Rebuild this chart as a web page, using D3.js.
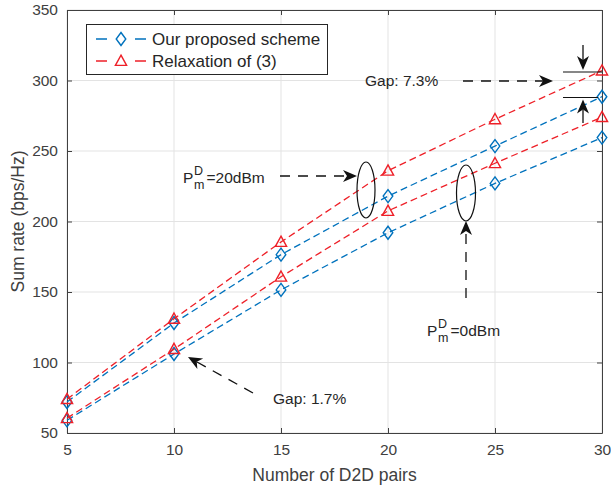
<!DOCTYPE html>
<html>
<head>
<meta charset="utf-8">
<script src="https://cdn.jsdelivr.net/npm/d3@7"></script>
<style>
  body { margin: 0; background: #fff; }
  svg { font-family: "Liberation Sans", Arial, Helvetica, sans-serif; }
</style>
</head>
<body>
<div id="chart"></div>
<script>
var W = 611, H = 487;
var margin = {left: 67, right: 9, top: 10, bottom: 54};

// Data
var xPairs = [5, 10, 15, 20, 25, 30];
var propHigh = [72, 128, 176.5, 218, 253.5, 288.5];     // proposed, P=20dBm
var relaxHigh = [74, 131, 185.5, 236, 272.5, 307];      // relaxation, P=20dBm
var propLow = [59, 106, 151.5, 192, 227, 259.5];        // proposed, P=0dBm
var relaxLow = [60.5, 109.5, 160.8, 207.5, 241.3, 274]; // relaxation, P=0dBm
var xTicks = [5, 10, 15, 20, 25, 30];
var yTicks = [50, 100, 150, 200, 250, 300, 350];
var legendNames = ['Our proposed scheme', 'Relaxation of (3)'];

var blue = '#0072bd', red = '#ee2028', axisCol = '#404040';

var svg = d3.select('#chart').append('svg')
  .attr('width', W).attr('height', H);

var x = d3.scaleLinear().domain([5, 30]).range([margin.left, W - margin.right]);
var y = d3.scaleLinear().domain([50, 350]).range([H - margin.bottom, margin.top]);

// grid
svg.append('g').selectAll('line').data(xTicks).enter().append('line')
  .attr('x1', function(d){ return x(d); }).attr('x2', function(d){ return x(d); })
  .attr('y1', y(50)).attr('y2', y(350))
  .attr('stroke', '#e3e3e3').attr('stroke-width', 1);
svg.append('g').selectAll('line').data(yTicks).enter().append('line')
  .attr('y1', function(d){ return y(d); }).attr('y2', function(d){ return y(d); })
  .attr('x1', x(5)).attr('x2', x(30))
  .attr('stroke', '#e3e3e3').attr('stroke-width', 1);

// axes (ticks inside, box)
function styleAxis(g) {
  g.select('.domain').attr('stroke', axisCol);
  g.selectAll('.tick line').attr('stroke', axisCol);
  g.selectAll('.tick text').attr('fill', axisCol).attr('font-size', '15.5px');
}
svg.append('g').attr('transform', 'translate(0,' + y(50) + ')')
  .call(d3.axisBottom(x).tickValues(xTicks).tickSizeInner(-5).tickSizeOuter(0).tickPadding(11))
  .call(styleAxis);
svg.append('g').attr('transform', 'translate(0,' + y(350) + ')')
  .call(d3.axisTop(x).tickValues(xTicks).tickSizeInner(-5).tickSizeOuter(0).tickFormat(''))
  .call(styleAxis);
svg.append('g').attr('transform', 'translate(' + x(5) + ',0)')
  .call(d3.axisLeft(y).tickValues(yTicks).tickSizeInner(-5).tickSizeOuter(0).tickPadding(9))
  .call(styleAxis);
svg.append('g').attr('transform', 'translate(' + x(30) + ',0)')
  .call(d3.axisRight(y).tickValues(yTicks).tickSizeInner(-5).tickSizeOuter(0).tickFormat(''))
  .call(styleAxis);

// axis labels
svg.append('text')
  .attr('x', (x(5) + x(30)) / 2).attr('y', 481)
  .attr('text-anchor', 'middle').attr('font-size', '17.5px').attr('fill', axisCol)
  .text('Number of D2D pairs');
svg.append('text')
  .attr('transform', 'translate(24,' + ((y(50) + y(350)) / 2) + ') rotate(-90)')
  .attr('text-anchor', 'middle').attr('font-size', '17.5px').attr('fill', axisCol)
  .text('Sum rate (bps/Hz)');

// series
var diamond = 'M0,-6.5L4.8,0L0,6.5L-4.8,0Z';
var triangle = 'M0,-5.8L5.6,4.4L-5.6,4.4Z';
var series = [
  {vals: propHigh, color: blue, marker: diamond},
  {vals: propLow, color: blue, marker: diamond},
  {vals: relaxHigh, color: red, marker: triangle},
  {vals: relaxLow, color: red, marker: triangle}
];
var line = d3.line()
  .x(function(d, i){ return x(xPairs[i]); })
  .y(function(d){ return y(d); });

series.forEach(function(s) {
  svg.append('path').datum(s.vals)
    .attr('d', line).attr('fill', 'none')
    .attr('stroke', s.color).attr('stroke-width', 1.3)
    .attr('stroke-dasharray', '7,4');
  svg.append('g').selectAll('path').data(s.vals).enter().append('path')
    .attr('d', s.marker)
    .attr('transform', function(d, i){ return 'translate(' + x(xPairs[i]) + ',' + y(d) + ')'; })
    .attr('fill', 'none').attr('stroke', s.color).attr('stroke-width', 1.4);
});

// legend
var legend = svg.append('g');
legend.append('rect')
  .attr('x', 86.5).attr('y', 24.5).attr('width', 241).attr('height', 50)
  .attr('fill', '#fff').attr('stroke', '#262626').attr('stroke-width', 1);
var legItems = [{c: blue, m: diamond}, {c: red, m: triangle}];
legItems.forEach(function(it, i) {
  var ly = 39 + i * 22;
  legend.append('line').attr('x1', 96).attr('x2', 146).attr('y1', ly).attr('y2', ly)
    .attr('stroke', it.c).attr('stroke-width', 1.3).attr('stroke-dasharray', '11,28');
  legend.append('path').attr('d', it.m).attr('transform', 'translate(121,' + ly + ')')
    .attr('fill', 'none').attr('stroke', it.c).attr('stroke-width', 1.4);
  legend.append('text').attr('x', 152).attr('y', ly + 6)
    .attr('font-size', '17px').attr('fill', '#262626')
    .text(legendNames[i]);
});

// annotations
var ann = svg.append('g').attr('fill', '#111').attr('stroke', '#111');

function arrowHead(tx, ty, angle) {
  ann.append('path')
    .attr('d', 'M0,0L-14,-6L-10,0L-14,6Z')
    .attr('transform', 'translate(' + tx + ',' + ty + ') rotate(' + angle + ')')
    .attr('stroke', 'none');
}
function arrow(x1, y1, x2, y2, dashed) {
  var a = Math.atan2(y2 - y1, x2 - x1);
  ann.append('line')
    .attr('x1', x1).attr('y1', y1)
    .attr('x2', x2 - 10 * Math.cos(a)).attr('y2', y2 - 10 * Math.sin(a))
    .attr('stroke-width', 1.3)
    .attr('stroke-dasharray', dashed ? '10,8' : null);
  arrowHead(x2, y2, a * 180 / Math.PI);
}
function label(tx, ty, str) {
  ann.append('text').attr('x', tx).attr('y', ty).attr('stroke', 'none')
    .attr('font-size', '15.5px').attr('fill', '#262626').text(str);
}
function powerLabel(tx, ty, rest) {
  label(tx, ty, 'P');
  ann.append('text').attr('x', tx + 11).attr('y', ty - 8).attr('stroke', 'none')
    .attr('font-size', '12.5px').attr('fill', '#262626').text('D');
  ann.append('text').attr('x', tx + 11).attr('y', ty + 6).attr('stroke', 'none')
    .attr('font-size', '12.5px').attr('fill', '#262626').text('m');
  label(tx + 23.5, ty, rest);
}

// ellipses
ann.append('ellipse').attr('cx', 366).attr('cy', 190).attr('rx', 9).attr('ry', 28)
  .attr('fill', 'none').attr('stroke-width', 1.2);
ann.append('ellipse').attr('cx', 466).attr('cy', 193).attr('rx', 9.5).attr('ry', 28)
  .attr('fill', 'none').attr('stroke-width', 1.2);

powerLabel(183, 183, '=20dBm');
arrow(280, 176, 357, 176, true);

powerLabel(427, 336, '=0dBm');
arrow(466, 298, 466, 221, true);

label(365, 86, 'Gap: 7.3%');
arrow(463, 81, 553, 81, true);

label(273, 404, 'Gap: 1.7%');
arrow(253, 393, 188, 357, true);

// gap markers at x = 30
ann.append('line').attr('x1', 563).attr('x2', x(30)).attr('y1', 72).attr('y2', 72).attr('stroke-width', 1.2);
ann.append('line').attr('x1', 563).attr('x2', x(30) - 4).attr('y1', 97.5).attr('y2', 97.5).attr('stroke-width', 1.2);
arrow(583, 45, 583, 70, false);
arrow(583, 123, 583, 99.5, false);
</script>
</body>
</html>
